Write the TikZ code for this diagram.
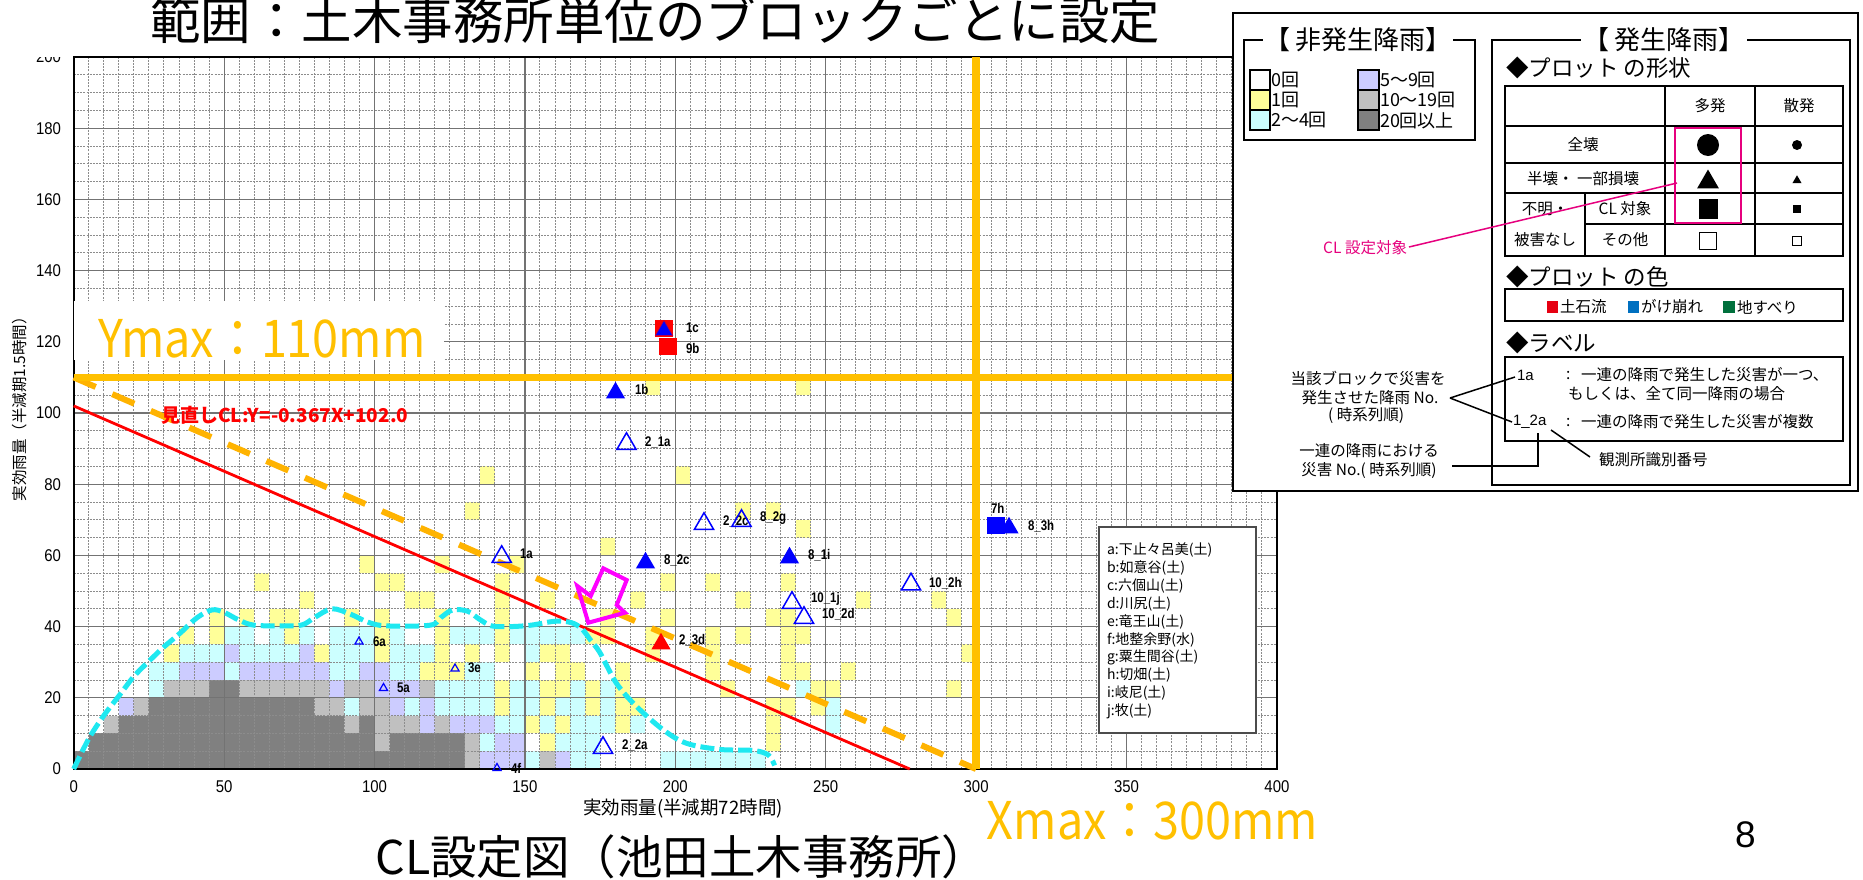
\documentclass[tikz,border=0pt]{standalone}
\usepackage{fontspec}
\setmainfont{Noto Sans CJK JP}
\newfontfamily\latf{Liberation Sans}
\usetikzlibrary{shapes.geometric}
\definecolor{hy}{HTML}{FFFF99}
\definecolor{hc}{HTML}{CCFFFF}
\definecolor{hl}{HTML}{CCCCFF}
\definecolor{hs}{HTML}{C0C0C0}
\definecolor{hd}{HTML}{808080}
\definecolor{gold}{HTML}{FFC000}
\definecolor{goldd}{HTML}{FFB300}
\definecolor{cyn}{HTML}{1EE8F0}
\definecolor{mag}{HTML}{FF00FF}
\definecolor{pinkm}{HTML}{E6007E}
\definecolor{pblue}{HTML}{0000FF}
\definecolor{lgred}{HTML}{E60012}
\definecolor{lgblue}{HTML}{0070C0}
\definecolor{lggreen}{HTML}{00703C}
\newcommand{\fsz}[1]{\fontsize{#1}{#1}\selectfont}
\begin{document}
\begin{tikzpicture}[x=1pt,y=-1pt,
  every node/.style={inner sep=0pt,outer sep=0pt},
  minorg/.style={black!45,line width=0.9pt,dash pattern=on 2pt off 1.2pt},
  majorg/.style={black!55,line width=1.2pt},
  bigtri/.style={regular polygon,regular polygon sides=3,minimum size=22pt,inner sep=0pt},
  smtri/.style={regular polygon,regular polygon sides=3,minimum size=9.5pt,inner sep=0pt},
  sqm/.style={rectangle,minimum width=18pt,minimum height=17pt,inner sep=0pt},
  opentri/.style={bigtri,draw=pblue,line width=1.5pt},
  filltri/.style={bigtri,fill=pblue},
  smopen/.style={smtri,draw=pblue,line width=1.2pt},
  plab/.style={anchor=west,font=\latf\bfseries\fsz{14},xscale=0.82},
  tick/.style={font=\latf\fsz{17},xscale=0.88},
  lg/.style={font=\fsz{15.5}},
  hd2/.style={anchor=west,font=\fsz{22.5}},
  big/.style={font=\fsz{52},text=gold,xscale=0.9}]
\useasboundingbox (0,0) rectangle (1863,879);
\clip (0,0) rectangle (1863,879);
\fill[white] (0,0) rectangle (1863,879);

% ---------------- plot area ----------------
\begin{scope}[shift={(73.7,769)},x=3.008pt,y=3.56pt]
  \fill[white] (0,0) rectangle (400,200);
  \foreach \a/\b/\j/\c in {
    0/25/0/hd,26/26/0/hs,27/29/0/hl,30/30/0/hc,31/31/0/hs,32/32/0/hl,33/34/0/hc,39/45/0/hc,
    1/19/1/hd,20/20/1/hs,21/25/1/hd,26/26/1/hs,27/27/1/hc,28/29/1/hl,31/31/1/hy,32/34/1/hc,46/46/1/hy,
    2/2/2/hs,3/17/2/hd,18/18/2/hs,19/19/2/hd,20/22/2/hs,23/23/2/hl,24/24/2/hs,25/27/2/hl,28/29/2/hc,30/30/2/hy,31/31/2/hc,32/32/2/hy,33/35/2/hc,36/36/2/hy,37/37/2/hc,46/46/2/hy,50/50/2/hc,
    3/3/3/hl,4/4/3/hs,5/15/3/hd,16/17/3/hs,18/18/3/hc,19/20/3/hs,21/21/3/hl,22/22/3/hc,23/23/3/hl,24/27/3/hc,28/28/3/hy,29/30/3/hc,31/31/3/hy,32/33/3/hc,34/34/3/hy,35/35/3/hc,36/37/3/hy,46/47/3/hy,49/49/3/hy,50/50/3/hc,
    5/5/4/hc,6/8/4/hs,9/10/4/hd,11/16/4/hs,17/17/4/hl,18/19/4/hs,20/22/4/hl,23/23/4/hs,24/27/4/hc,28/28/4/hy,29/30/4/hc,31/32/4/hy,33/33/4/hc,34/34/4/hy,35/35/4/hc,36/36/4/hy,43/43/4/hy,48/48/4/hc,49/50/4/hy,58/58/4/hy,
    5/6/5/hc,7/9/5/hl,10/10/5/hc,11/16/5/hl,17/18/5/hc,19/20/5/hl,21/22/5/hc,23/25/5/hy,26/27/5/hc,30/30/5/hy,32/33/5/hy,36/36/5/hy,42/42/5/hy,47/48/5/hy,51/51/5/hy,
    6/6/6/hy,7/9/6/hc,10/10/6/hl,11/14/6/hc,15/15/6/hl,16/16/6/hy,17/19/6/hc,20/20/6/hy,21/23/6/hc,24/24/6/hy,26/26/6/hy,28/28/6/hy,30/30/6/hc,31/32/6/hy,38/38/6/hy,42/42/6/hy,47/47/6/hy,59/59/6/hy,
    7/7/7/hy,9/9/7/hy,10/11/7/hc,13/13/7/hc,14/14/7/hy,15/15/7/hc,17/19/7/hc,20/20/7/hy,21/21/7/hc,24/24/7/hy,25/27/7/hc,28/28/7/hy,29/33/7/hc,34/35/7/hy,38/38/7/hy,42/42/7/hy,44/44/7/hy,47/48/7/hy,
    9/9/8/hy,11/11/8/hy,13/14/8/hy,18/18/8/hy,20/20/8/hy,24/24/8/hy,28/28/8/hy,35/35/8/hy,39/39/8/hy,46/47/8/hy,58/58/8/hy,
    15/15/9/hy,22/23/9/hy,28/28/9/hy,31/31/9/hy,37/37/9/hy,44/44/9/hy,52/52/9/hy,57/57/9/hy,
    12/12/10/hy,20/21/10/hy,28/28/10/hy,39/39/10/hy,42/42/10/hy,47/47/10/hy,
    19/19/11/hy,24/24/11/hy,29/29/11/hy,35/35/12/hy,48/48/13/hy,
    26/26/14/hy,44/44/14/hy,46/46/14/hy,27/27/16/hy,40/40/16/hy,38/38/21/hy,48/48/21/hy}
    \fill[\c] (5*\a,5*\j) rectangle (5*\b+5,5*\j+5);
  \foreach \X in {5,10,...,395} \draw[minorg] (\X,0) -- (\X,200);
  \foreach \Y in {5,10,...,195} \draw[minorg] (0,\Y) -- (400,\Y);
  \foreach \X in {50,100,...,350} \draw[majorg] (\X,0) -- (\X,200);
  \foreach \Y in {20,40,...,180} \draw[majorg] (0,\Y) -- (400,\Y);
  \draw[line width=1.6pt] (0,0) rectangle (400,200);
  % lines
  \draw[red,line width=2.8pt] (0,102) -- (277.93,0);
  \draw[goldd,line width=6pt,dash pattern=on 24pt off 18pt] (0,110) -- (300,0);
  \draw[gold,line width=7.5pt] (0,110) -- (400,110);
  \draw[gold,line width=7.5pt] (300,0) -- (300,200);
  \draw[cyn,line width=5pt,dash pattern=on 14pt off 5pt] plot[smooth,tension=0.55] coordinates {
    (0,0) (5,8.5) (10,15) (15,20.5) (20,26) (25.4,30.6) (30,34.3) (35.3,38.1) (41,42.5) (46,44.7) (50,44)
    (55,41.8) (60,40.4) (70,40.2) (76,40.5) (80,42.5) (85.8,45) (92,43.5) (98,41.2) (104,40.2)
    (118.5,40.4) (122,42.5) (126,44.7) (131,44.3) (135,42) (139,40.2) (145,40) (152,40.4) (160,41.5)
    (165.5,41.1) (169,39.3) (172,36) (175,32.6) (180.5,24) (187.2,17.5) (196,11) (203.8,7.2)
    (214.9,5.5) (226,5.2) (231,3.9) (233,1)};
\end{scope}

% markers and labels
\node[sqm,fill=red] (m1cs) at (664,328.5) {};
\node[bigtri,minimum size=20pt,fill=pblue,draw=red!70!blue,line width=0.6pt] (m1c) at (664,330.5) {};
\node[sqm,fill=red] (m9b) at (667.5,346.5) {};
\node[plab] (l1c) at (686,328) {1c};
\node[plab] (l9b) at (686,348) {9b};
\node[filltri] (m1b) at (615.5,392.75) {};
\node[plab] (l1b) at (635,389) {1b};
\node[opentri] (m21a) at (626.5,443.75) {};
\node[plab] (l21a) at (645,442) {2\_1a};
\node[opentri] (m22c) at (704,523.75) {};
\node[plab] (l22c) at (723,521) {2\_2c};
\node[opentri] (m82g) at (741.5,520.75) {};
\node[plab] (l82g) at (760,518) {8\_2g};
\node[filltri] (m82c) at (645.5,562.75) {};
\node[plab] (l82c) at (664,560) {8\_2c};
\node[filltri] (m81i) at (789.5,557.75) {};
\node[plab] (l81i) at (808,555) {8\_1i};
\node[opentri] (m102h) at (911,584.25) {};
\node[plab] (l102h) at (929,583) {10\_2h};
\node[opentri] (m101j) at (792,602.75) {};
\node[plab] (l101j) at (811,599) {10\_1j};
\node[opentri] (m102d) at (804,617.75) {};
\node[plab] (l102d) at (822,614) {10\_2d};
\node[bigtri,fill=red] (m23d) at (661,643.75) {};
\node[plab] (l23d) at (679,640) {2\_3d};
\node[sqm,fill=pblue] (m7h) at (995.5,525) {};
\node[plab] (l7h) at (991,508) {7h};
\node[filltri] (m83h) at (1009,527.75) {};
\node[plab] (l83h) at (1028,526) {8\_3h};
\node[opentri] (m22a) at (603,747.75) {};
\node[plab] (l22a) at (622,745) {2\_2a};
\node[opentri] (m1a) at (501.7,556.75) {};
\node[plab] (l1a) at (520,554) {1a};
\node[smopen] (m6a) at (359,641.7) {};
\node[plab] (l6a) at (373,641.7) {6a};
\node[smopen] (m3e) at (455,668.7) {};
\node[plab] (l3e) at (468,668) {3e};
\node[smopen] (m5a) at (383.5,688.2) {};
\node[plab] (l5a) at (397,688) {5a};
\node[smopen] (m4f) at (497,768.2) {};
\node[plab] (l4f) at (511,768) {4f};

% magenta arrow
\draw[mag,line width=4pt,line join=miter] (603.3,568.3) -- (626.7,580) -- (616.7,605) -- (625,612.7)
  -- (588.3,622.7) -- (577.3,586) -- (590.7,596) -- cycle;

% CL equation
\node[anchor=west,font=\bfseries\fsz{19},text=red,xscale=1.0] (cleq) at (161,415) {見直しCL:Y=-0.367X+102.0};

% station list
\draw[black!70,line width=1.5pt,fill=white] (1099,527) rectangle (1256,733);
\foreach \t [count=\k from 0] in {a:下止々呂美(土),b:如意谷(土),c:六個山(土),d:川尻(土),e:竜王山(土),f:地整余野(水),g:粟生間谷(土),h:切畑(土),i:岐尼(土),j:牧(土)}
  \node[anchor=west,font=\fsz{14}] (st\k) at (1107,{550+17.9*\k}) {\t};

% Ymax box
\fill[white] (74,301) rectangle (444,360);
\node[big] (ymax) at (262,339) {Ymax：110mm};
\node[big] (xmax) at (1152.5,821) {Xmax：300mm};

% ticks
\foreach \Y in {0,20,...,200}
  \node[tick,anchor=east] (yt\Y) at (61,{769-3.56*\Y}) {\Y};
\foreach \X in {0,50,...,400}
  \node[tick] (xt\X) at ({73.7+3.008*\X},787) {\X};
\node[font=\fsz{18.5}] (xtitle) at (683,809) {実効雨量(半減期72時間)};
\node[font=\fsz{15.5},rotate=90] (ytitle) at (20,405) {実効雨量（半減期1.5時間）};

% top strip
\fill[white] (0,0) rectangle (70,57);
\node[anchor=west,font=\fsz{50.5}] (title) at (150,20) {範囲：土木事務所単位のブロックごとに設定};

% bottom texts
\node[font=\fsz{46.5}] (cap) at (682,857) {CL設定図（池田土木事務所）};
\node[font=\latf\fsz{37}] (pnum) at (1745.5,835) {8};

% ---------------- legend ----------------
\draw[line width=2pt,fill=white] (1233,13) rectangle (1858,491);
\draw[line width=1.6pt] (1244,40) rectangle (1475,140);
\node[fill=white,inner sep=1pt,font=\fsz{26}] (t1) at (1358,40) {【 非発生降雨】};
\foreach \c/\t/\yy [count=\k] in {white/0回/70,hy/1回/90,hc/2～4回/110}
  {\draw[line width=1.5pt,fill=\c] (1250,\yy) rectangle (1270,\yy+20);
   \node[anchor=west,font=\fsz{18}] (sl\k) at (1271,\yy+10.5) {\t};}
\foreach \c/\t/\yy [count=\k] in {hl/5～9回/70,hs/10～19回/90,hd/20回以上/110}
  {\draw[line width=1.5pt,fill=\c] (1358,\yy) rectangle (1379,\yy+20);
   \node[anchor=west,font=\fsz{18}] (sr\k) at (1380,\yy+10.5) {\t};}

\draw[line width=2pt] (1492,40) rectangle (1850,485);
\node[fill=white,inner sep=2pt,font=\fsz{26}] (t2) at (1664,40) {【 発生降雨】};
\node[hd2] (h1) at (1506,68) {◆プロット の形状};
\draw[line width=2pt] (1504.5,86) rectangle (1843,256);
\foreach \yy in {126,163,193} \draw[line width=1.5pt] (1504.5,\yy) -- (1843,\yy);
\draw[line width=1.5pt] (1585,224) -- (1843,224);
\draw[line width=1.5pt] (1665,86) -- (1665,256);
\draw[line width=1.5pt] (1755,86) -- (1755,256);
\draw[line width=1.5pt] (1585,193) -- (1585,256);
\node[lg] (c1) at (1710,106) {多発};
\node[lg] (c2) at (1799,106) {散発};
\node[lg] (r1) at (1583,145) {全壊};
\node[lg] (r2) at (1583,178.5) {半壊・ 一部損壊};
\node[lg] (r3) at (1545,208.5) {不明・};
\node[lg] (r4) at (1625,208.5) {CL 対象};
\node[lg] (r5) at (1545,240) {被害なし};
\node[lg] (r6) at (1625,240) {その他};
\node[circle,fill=black,minimum size=22pt] (s1) at (1708,145) {};
\node[circle,fill=black,minimum size=10pt] (s2) at (1797,145) {};
\node[regular polygon,regular polygon sides=3,fill=black,minimum size=25pt] (s3) at (1708,182) {};
\node[regular polygon,regular polygon sides=3,fill=black,minimum size=10.5pt] (s4) at (1797,180.5) {};
\node[rectangle,fill=black,minimum width=19pt,minimum height=20pt] (s5) at (1708,209) {};
\node[rectangle,fill=black,minimum size=8pt] (s6) at (1797,209) {};
\node[rectangle,draw=black,line width=1.8pt,minimum size=17pt] (s7) at (1708,241) {};
\node[rectangle,draw=black,line width=1pt,minimum size=9pt] (s8) at (1797,241) {};
\draw[pinkm,line width=1.8pt] (1675,128) rectangle (1741,223);
\node[anchor=east,font=\fsz{15.5},text=pinkm] (clt) at (1407,248) {CL 設定対象};
\draw[pinkm,line width=1.5pt] (clt.east) ++(2,-1) -- (1677,183);

\node[hd2] (h2) at (1506,277) {◆プロット の色};
\draw[line width=2pt] (1504.5,289) rectangle (1843,321);
\fill[lgred] (1547,301) rectangle (1558,313);
\node[anchor=west,lg] (k1) at (1560,307) {土石流};
\fill[lgblue] (1628,301) rectangle (1639,313);
\node[anchor=west,lg] (k2) at (1641,307) {がけ崩れ};
\fill[lggreen] (1723,301) rectangle (1735,313);
\node[anchor=west,lg] (k3) at (1737,307) {地すべり};

\node[hd2] (h3) at (1506,343) {◆ラベル};
\draw[line width=2pt] (1504.5,357) rectangle (1843,441);
\node[anchor=west,font=\latf\fsz{15}] (e1) at (1517,375) {1a};
\node[anchor=west,lg] (e1c) at (1566,375) {:};
\node[anchor=west,lg] (e1t) at (1581,375) {一連の降雨で発生した災害が一つ、};
\node[anchor=west,lg] (e1u) at (1568,394) {もしくは、全て同一降雨の場合};
\node[anchor=west,font=\latf\fsz{15}] (e2) at (1513,422) {1\_2a};
\node[anchor=west,lg] (e2c) at (1566,422) {:};
\node[anchor=west,lg] (e2t) at (1581,422) {一連の降雨で発生した災害が複数};
\node[anchor=west,lg] (obs) at (1599,460) {観測所識別番号};
\node[lg] (n1) at (1368,379) {当該ブロックで災害を};
\node[lg] (n2) at (1370,398) {発生させた降雨 No.};
\node[lg] (n3) at (1366,415) {( 時系列順)};
\node[lg] (n4) at (1369,451) {一連の降雨における};
\node[lg] (n5) at (1369,470) {災害 No.( 時系列順)};
\coordinate (jn) at (1450,398);
\draw[line width=1.5pt] (jn) -- (1515,377);
\draw[line width=1.5pt] (jn) -- (1512,422);
\draw[line width=1.5pt] (1538,433) -- (1538,466) -- (1452,466);
\draw[line width=1.5pt] (1551,430) -- (1590,457);
\end{tikzpicture}
\end{document}
